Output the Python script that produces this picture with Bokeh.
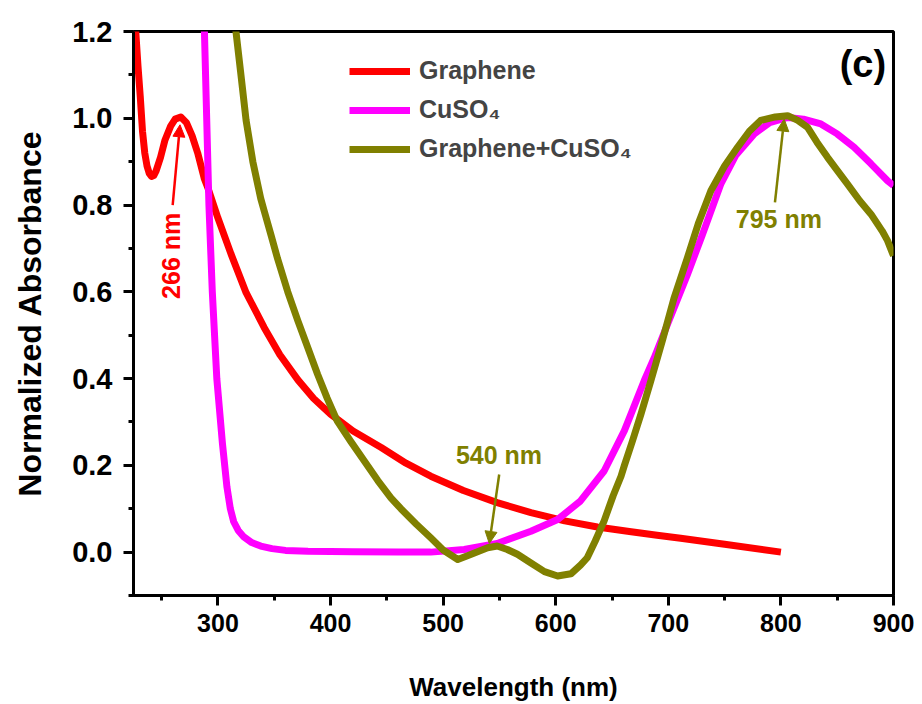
import numpy as np
from bokeh.plotting import figure
from bokeh.models import (Range1d, FixedTicker, Label, Arrow,
                          NormalHead, Legend, LegendItem, NumeralTickFormatter)
from bokeh.embed import file_html
from bokeh.resources import INLINE

FONT = "Liberation Sans"

# ---------------- data ----------------
graphene_wl = [224, 227, 229, 231, 233, 235, 237, 239, 241, 243, 245, 249, 253, 258, 262, 267,
               272, 277, 282, 288, 291, 300, 311.5, 325, 341, 355, 371, 385, 400, 420, 445,
               467, 489, 518, 548, 578, 608, 637, 667, 690, 711, 750, 800]
graphene_abs = [1.28, 1.2, 1.12, 1.05, 0.97, 0.92, 0.89, 0.873, 0.866, 0.868, 0.878, 0.91, 0.95, 0.982, 0.998, 1.003,
                0.99, 0.96, 0.92, 0.86, 0.84, 0.77, 0.688, 0.598, 0.518, 0.455, 0.397, 0.354, 0.318, 0.279, 0.241,
                0.205, 0.175, 0.142, 0.114, 0.091, 0.072, 0.058, 0.047, 0.039, 0.032, 0.018, 0.0]

cuso4_wl = [285, 288, 290, 292, 295, 299, 304, 308, 311, 314, 318, 323, 330, 338, 348, 360,
            380, 420, 460, 489, 518.7, 548, 578, 601.7, 622, 643, 661, 678.6, 687.5, 700, 717,
            730, 746.7, 760, 776.3, 790, 806, 820, 835.5, 850, 865, 880, 894.7, 900]
cuso4_abs = [1.4, 1.2, 1.0, 0.8, 0.6, 0.4, 0.25, 0.15, 0.1, 0.07, 0.05, 0.035, 0.022, 0.014, 0.008, 0.004,
             0.002, 0.001, 0.0, 0.0, 0.006, 0.02, 0.048, 0.075, 0.118, 0.187, 0.28, 0.395, 0.448, 0.53, 0.64,
             0.73, 0.849, 0.915, 0.964, 0.99, 1.002, 0.998, 0.987, 0.964, 0.933, 0.895, 0.856, 0.845]

mix_wl = [312, 316, 320, 325, 331, 338, 341, 347, 353, 362, 371, 380, 388.5, 397, 406, 418, 430, 442,
          453.6, 462.5, 476, 489, 500, 513, 525, 539.5, 548, 557, 566, 578, 590, 601.7, 613.5, 622,
          628, 635, 643, 651, 658, 661, 668, 675.7, 684.5, 695, 705, 717, 727, 737.8, 750, 761.5,
          772, 782, 795, 806, 815, 823.7, 832, 841.4, 850, 859, 870, 880, 890, 894.7, 900]
mix_abs = [1.28, 1.2, 1.11, 0.995, 0.9, 0.815, 0.787, 0.732, 0.676, 0.6, 0.533, 0.47, 0.41, 0.355, 0.302, 0.255, 0.21, 0.165,
           0.125, 0.1, 0.065, 0.033, 0.005, -0.017, -0.005, 0.01, 0.014, 0.006, -0.005, -0.025, -0.045, -0.055, -0.05, -0.03,
           -0.013, 0.025, 0.072, 0.13, 0.175, 0.2, 0.255, 0.318, 0.395, 0.49, 0.585, 0.679, 0.76, 0.833, 0.89, 0.933,
           0.97, 0.995, 1.003, 1.006, 0.995, 0.979, 0.945, 0.91, 0.88, 0.849, 0.81, 0.779, 0.74, 0.718, 0.683]

series_names = ["Graphene", "CuSO\u2084", "Graphene+CuSO\u2084"]
peak_labels = ["266 nm", "540 nm", "795 nm"]

x_ticks = [300, 400, 500, 600, 700, 800, 900]
x_minor = [250, 350, 450, 550, 650, 750, 850]
y_ticks = [0.0, 0.2, 0.4, 0.6, 0.8, 1.0, 1.2]
y_minor = [-0.1, 0.1, 0.3, 0.5, 0.7, 0.9, 1.1]

RED, MAG, OLIVE = "#FF0000", "#FF00FF", "#808000"
LW = 7

# ---------------- figure ----------------
p = figure(width=922, height=704, output_backend="svg", toolbar_location=None,
           x_range=Range1d(225, 900), y_range=Range1d(-0.1, 1.2),
           min_border_left=133, min_border_right=29, min_border_top=31, min_border_bottom=109)

p.xgrid.visible = False
p.ygrid.visible = False
p.outline_line_color = "black"
p.outline_line_width = 3
p.background_fill_color = "white"
p.border_fill_color = "white"

r1 = p.line(graphene_wl, graphene_abs, line_color=RED, line_width=LW, line_join="round")
r2 = p.line(cuso4_wl, cuso4_abs, line_color=MAG, line_width=LW, line_join="round")
r3 = p.line(mix_wl, mix_abs, line_color=OLIVE, line_width=LW, line_join="round")

# axes
p.xaxis.ticker = FixedTicker(ticks=x_ticks, minor_ticks=x_minor)
p.yaxis.ticker = FixedTicker(ticks=y_ticks, minor_ticks=y_minor)
p.yaxis.formatter = NumeralTickFormatter(format="0.0")

for ax in (p.xaxis[0], p.yaxis[0]):
    ax.axis_line_width = 3
    ax.major_tick_line_width = 3
    ax.minor_tick_line_width = 3
    ax.major_tick_out = 10
    ax.major_tick_in = 0
    ax.minor_tick_out = 5
    ax.minor_tick_in = 0
    ax.major_label_text_font = FONT
    ax.major_label_text_font_style = "bold"
    ax.major_label_text_color = "black"
    ax.axis_label_text_font = FONT
    ax.axis_label_text_font_style = "bold"
    ax.axis_label_text_color = "black"

p.xaxis.axis_label = "Wavelength (nm)"
p.xaxis.major_label_text_font_size = "25px"
p.xaxis.axis_label_text_font_size = "26px"
p.xaxis.major_label_standoff = 8
p.xaxis.axis_label_standoff = 37

p.yaxis.axis_label = "Normalized Absorbance"
p.yaxis.major_label_text_font_size = "29px"
p.yaxis.axis_label_text_font_size = "32px"
p.yaxis.major_label_standoff = 11
p.yaxis.axis_label_standoff = 21

# legend
legend = Legend(items=[LegendItem(label=series_names[0], renderers=[r1]),
                       LegendItem(label=series_names[1], renderers=[r2]),
                       LegendItem(label=series_names[2], renderers=[r3])],
                location=(216, 432), padding=0, margin=0, spacing=10,
                glyph_width=61, glyph_height=20, label_standoff=9,
                label_text_font=FONT, label_text_font_style="bold",
                label_text_font_size="25px", label_height=28,
                border_line_color=None, background_fill_alpha=0)
p.add_layout(legend)

# peak annotations
def annotate(label, color, tx, ty, angle, x0, y0, x1, y1):
    p.add_layout(Arrow(end=NormalHead(size=12, fill_color=color, line_color=color, line_width=1),
                       x_start=x0, y_start=y0, x_end=x1, y_end=y1,
                       line_color=color, line_width=2.5))
    p.add_layout(Label(x=tx, y=ty, text=label, angle=angle, text_align="center",
                       text_baseline="middle", text_color=color, text_font=FONT,
                       text_font_style="bold", text_font_size="25px"))

annotate(peak_labels[0], RED, 258.3, 0.683, np.pi / 2, 259.8, 0.80, 266.3, 0.985)
annotate(peak_labels[1], OLIVE, 549.6, 0.224, 0, 549.8, 0.179, 541.0, 0.02)
annotate(peak_labels[2], OLIVE, 798.2, 0.768, 0, 794.7, 0.806, 802.9, 0.998)

p.add_layout(Label(x=872.8, y=1.126, text="(c)", text_align="center", text_baseline="middle",
                   text_color="black", text_font=FONT, text_font_style="bold",
                   text_font_size="38px"))

open("out.html", "w").write(file_html(p, INLINE))
